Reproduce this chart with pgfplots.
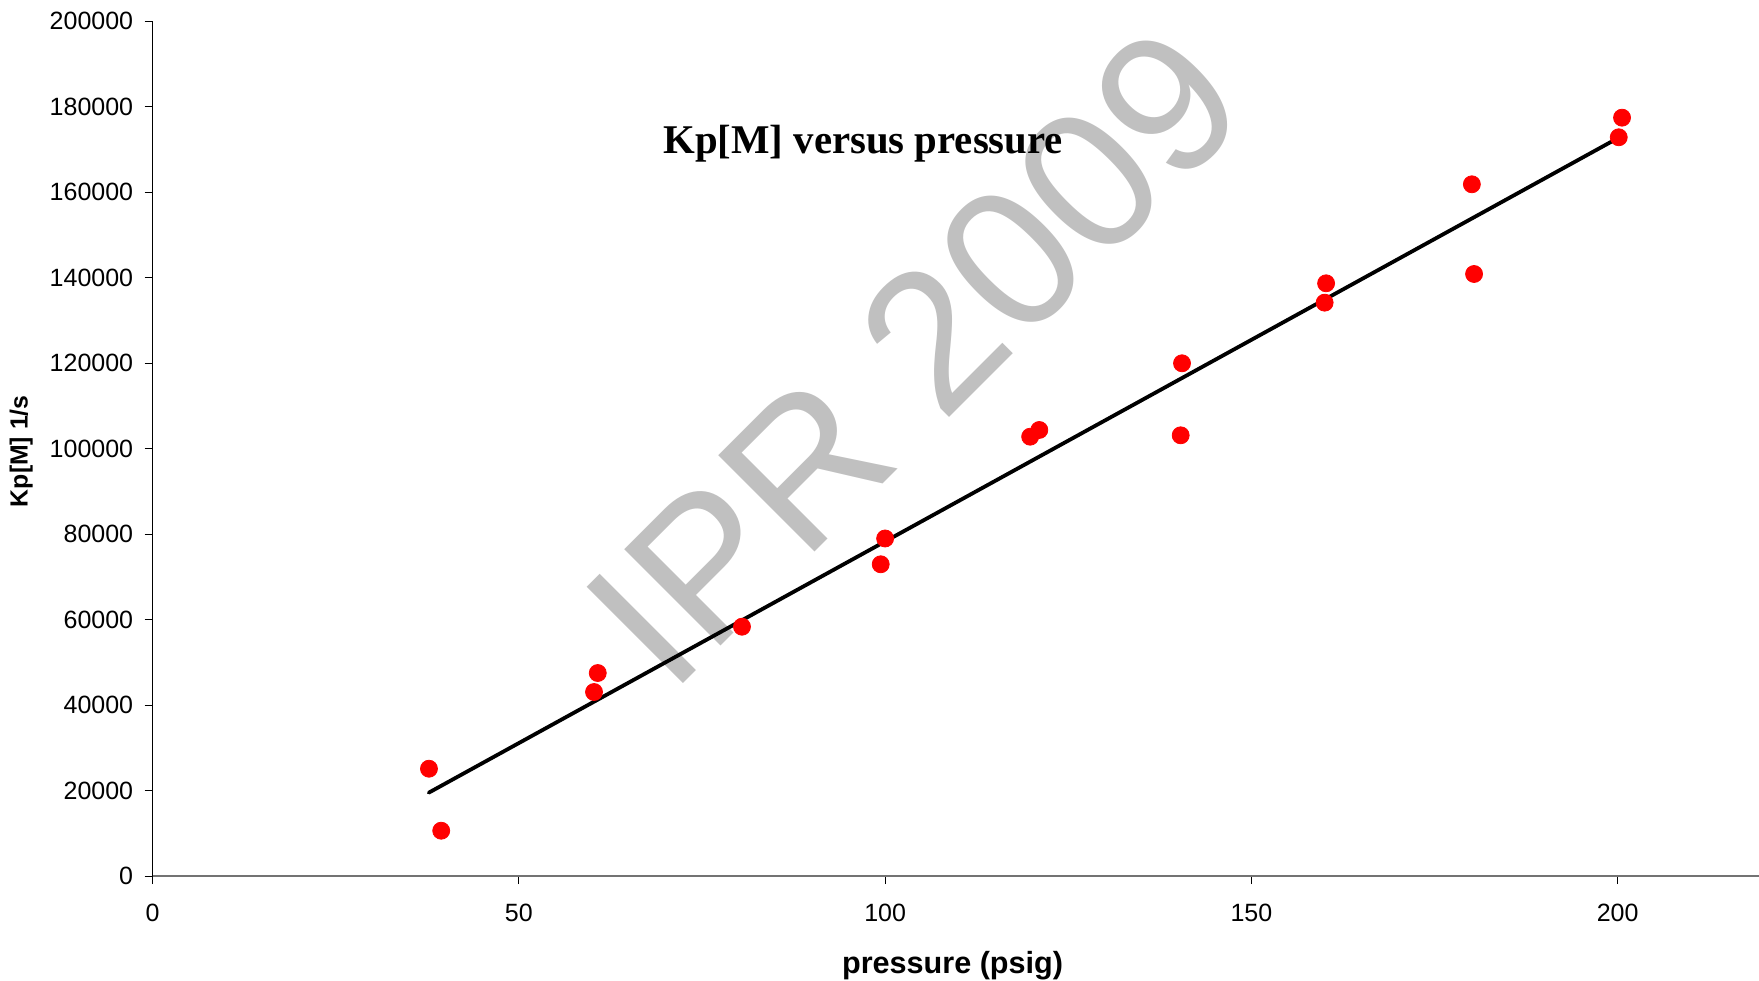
\documentclass[border=0pt]{standalone}
\usepackage{fontspec}
\setmainfont{Liberation Sans}
\newfontfamily\timesfont{Liberation Serif}
\usepackage{pgfplots}
\pgfplotsset{compat=1.18}
\definecolor{wm}{RGB}{192,192,192}
\begin{document}
\begin{tikzpicture}
\begin{axis}[
  scale only axis, width=803.2pt, height=427.35pt,
  xmin=0, xmax=219.3, ymin=0, ymax=200000,
  axis x line*=bottom, axis y line*=left,
  x axis line style={draw=black!55, line width=1.2pt},
  y axis line style={draw=black, line width=0.5pt},
  xtick={0,50,...,200}, ytick={0,20000,...,200000},
  tick align=outside, major tick length=4pt,
  tick style={black, line width=0.5pt},
  scaled y ticks=false,
  yticklabel style={/pgf/number format/fixed, /pgf/number format/1000 sep={}, xshift=-2.2pt},
  xticklabel style={yshift=-6.5pt},
  /pgf/number format/assume math mode=true,
  tick label style={font=\fontsize{12.5}{14}\selectfont},
  xlabel={pressure (psig)}, ylabel={Kp[M] 1/s},
  xlabel style={font=\bfseries\fontsize{15.3}{18}\selectfont, at={(axis description cs:0.498,-0.1135)}, anchor=base},
  ylabel style={font=\bfseries\fontsize{12.4}{15}\selectfont, at={(axis description cs:-0.0818,0.497)}, anchor=center},
  clip=false,
]
\node[text=wm, font=\fontsize{99}{102}\selectfont, rotate=45, anchor=base west, inner sep=0pt] at (axis cs:70.7,42000) {IPR 2009};
\addplot[only marks, mark=*, mark size=4.25pt, color=red, mark options={draw=red, fill=red}] coordinates {
(37.73,25108) (39.4,10600) (60.26,43056) (60.77,47500) (80.46,58336)
(99.4,72940) (100.0,78980) (119.8,102800) (121.05,104370)
(140.35,103124) (140.53,119972) (160.0,134160) (160.2,138690)
(180.1,161860) (180.4,140870) (200.15,172860) (200.6,177450)
};
\addplot[black, line width=1.9pt, line cap=round] coordinates {(37.7,19500) (200.6,173200)};
\node[font=\timesfont\bfseries\fontsize{20.4}{24}\selectfont, anchor=base] at (axis cs:97,168950) {Kp[M] versus pressure};
\end{axis}
\pgfresetboundingbox
\path[use as bounding box] (-76.3pt,-52pt) rectangle (803.2pt,438pt);
\end{tikzpicture}
\end{document}
